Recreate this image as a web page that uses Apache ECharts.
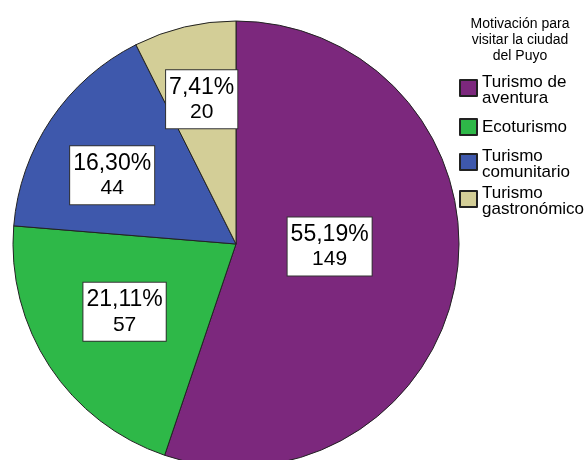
<!DOCTYPE html>
<html>
<head>
<meta charset="utf-8">
<script src="https://cdn.jsdelivr.net/npm/echarts@6/dist/echarts.min.js"></script>
<style>
  html, body { margin: 0; padding: 0; background: #fff; }
  #chart { width: 587px; height: 460px; }
</style>
</head>
<body>
<div id="chart"></div>
<script>
var categories = ["Turismo de\naventura", "Ecoturismo", "Turismo\ncomunitario", "Turismo\ngastronómico"];
var counts = [149, 57, 44, 20];
var colors = ["#7C287D", "#2EB848", "#3E58AC", "#D3CE97"];
var legendTitle = "Motivación para\nvisitar la ciudad\ndel Puyo";

// label box placement: fraction of radius out, and small angle nudge (deg)
var labelRadius = [0.42, 0.585, 0.635, 0.667];
var labelNudge = [-7.8, 2, -5, 0];

var cx = 236, cy = 244, r = 223;
var total = counts.reduce(function (a, b) { return a + b; }, 0);

// mid angles (clockwise from 12 o'clock) for the label placement
var midAngles = [];
var acc = 0;
counts.forEach(function (v) {
  midAngles.push((acc + v / 2) / total * 2 * Math.PI);
  acc += v;
});

var tallIcon = "path://M0,6h17v16h-17z M0,0L0,0 M0,32L0,32";
var shortIcon = "path://M0,8h17v16h-17z M0,0L0,0 M0,32L0,32";

var myChart = echarts.init(document.getElementById("chart"));
var option;

option = {
  animation: false,
  textStyle: { fontFamily: "Liberation Sans, Arial, sans-serif" },
  graphic: [{
    type: "text",
    style: {
      x: 520, y: 16,
      text: legendTitle,
      align: "center",
      verticalAlign: "top",
      font: "14px Liberation Sans, Arial, sans-serif",
      lineHeight: 16,
      fill: "#000"
    }
  }],
  legend: {
    orient: "vertical",
    left: 459,
    top: 73,
    padding: 0,
    itemWidth: 17,
    itemHeight: 32,
    itemGap: 3,
    selectedMode: false,
    textStyle: { fontSize: 17, lineHeight: 16, color: "#000" },
    data: categories.map(function (c) {
      return { name: c, icon: c.indexOf("\n") >= 0 ? tallIcon : shortIcon };
    })
  },
  series: [{
    type: "pie",
    center: [cx, cy],
    radius: r,
    startAngle: 90,
    clockwise: true,
    silent: true,
    itemStyle: { borderColor: "#222", borderWidth: 1 },
    label: {
      position: "inside",
      backgroundColor: "#fff",
      borderColor: "#333",
      borderWidth: 1,
      padding: [4, 3],
      formatter: function (p) {
        var pct = (p.value / total * 100).toFixed(2).replace(".", ",");
        return "{p|" + pct + "%}\n{v|" + p.value + "}";
      },
      rich: {
        p: { fontSize: 23, lineHeight: 26, color: "#000", align: "center" },
        v: { fontSize: 21, lineHeight: 24, color: "#000", align: "center" }
      }
    },
    labelLayout: function (params) {
      var i = params.dataIndex;
      var a = midAngles[i] + labelNudge[i] * Math.PI / 180;
      var d = labelRadius[i] * r;
      return { x: cx + Math.sin(a) * d, y: cy - Math.cos(a) * d };
    },
    data: categories.map(function (c, i) {
      return { name: c, value: counts[i], itemStyle: { color: colors[i] } };
    })
  }]
};

option && myChart.setOption(option);
</script>
</body>
</html>
